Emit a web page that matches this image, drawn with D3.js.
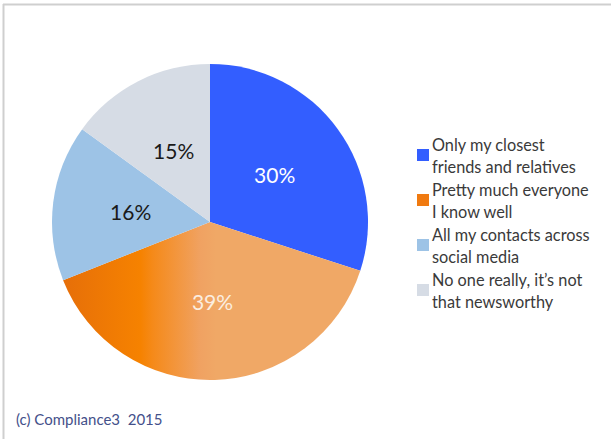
<!DOCTYPE html>
<html>
<head>
<meta charset="utf-8">
<script src="https://cdn.jsdelivr.net/npm/d3@7"></script>
<style>
  html, body { margin: 0; padding: 0; background: #fff; }
  svg { display: block; }
</style>
</head>
<body>
<svg id="chart" width="611" height="439"></svg>
<script>
// Who people would tell — share of respondents
const categories = [
  ["Only my closest", "friends and relatives"],
  ["Pretty much everyone", "I know well"],
  ["All my contacts across", "social media"],
  ["No one really, it\u2019s not", "that newsworthy"]
];
const values = [30, 39, 16, 15];
const sliceColors = ["#335EFF", "url(#orangeGrad)", "#9DC3E6", "#D6DCE5"];
const legendColors = ["#335EFF", "#F07A10", "#9DC3E6", "#D6DCE5"];
const labelColors = ["#ffffff", "#fbeee0", "#1a1a1a", "#1a1a1a"];
const footer = "(c) Compliance3  2015";

const svg = d3.select("#chart");
const W = 611, H = 439;

// frame: top and left rules
svg.append("line").attr("x1", 3).attr("x2", W).attr("y1", 4.5).attr("y2", 4.5)
  .attr("stroke", "#cfcfcf").attr("stroke-width", 2);
svg.append("line").attr("x1", 3.5).attr("x2", 3.5).attr("y1", 4).attr("y2", H)
  .attr("stroke", "#cfcfcf").attr("stroke-width", 2);

const cx = 210, cy = 222, R = 158;

// horizontal gradient used by the orange slice (in the pie group's coordinates)
const defs = svg.append("defs");
const grad = defs.append("linearGradient").attr("id", "orangeGrad")
  .attr("gradientUnits", "userSpaceOnUse")
  .attr("x1", -R).attr("x2", R).attr("y1", 0).attr("y2", 0);
[[0, "#E46C0A"], [0.28, "#F68200"], [0.32, "#F58A1A"], [0.47, "#F0A262"], [0.52, "#F0A866"], [1, "#F0A866"]]
  .forEach(([o, c]) => grad.append("stop").attr("offset", o).attr("stop-color", c));

const pie = d3.pie().sort(null).value(d => d);
const arcs = pie(values);
const arc = d3.arc().innerRadius(0).outerRadius(R);

const g = svg.append("g").attr("transform", `translate(${cx},${cy})`);
g.selectAll("path.slice").data(arcs).join("path")
  .attr("class", "slice")
  .attr("d", arc)
  .attr("fill", (d, i) => sliceColors[i]);

// percentage labels at roughly half the radius
const midR = 80;
g.selectAll("text.pct").data(arcs).join("text")
  .attr("class", "pct")
  .attr("x", d => midR * Math.sin((d.startAngle + d.endAngle) / 2))
  .attr("y", d => -midR * Math.cos((d.startAngle + d.endAngle) / 2))
  .attr("text-anchor", "middle")
  .attr("dominant-baseline", "central")
  .attr("font-family", "Lato, 'Open Sans', sans-serif")
  .attr("font-size", 21)
  .attr("fill", (d, i) => labelColors[i])
  .text(d => d.data + "%");

// legend
const legendY = d3.scaleBand().domain(d3.range(categories.length)).range([133, 313]);
const leg = svg.append("g");
const item = leg.selectAll("g").data(categories).join("g")
  .attr("transform", (d, i) => `translate(0,${legendY(i)})`);
item.append("rect")
  .attr("x", 417).attr("y", 16).attr("width", 12).attr("height", 12)
  .attr("fill", (d, i) => legendColors[i]);
item.each(function(lines) {
  const t = d3.select(this).append("text")
    .attr("font-family", "Lato, sans-serif")
    .attr("font-size", 16.3)
    .attr("fill", "#3a3a3a");
  lines.forEach((ln, k) => t.append("tspan").attr("x", 432).attr("y", 18 + k * 22).text(ln));
});

svg.append("text")
  .attr("x", 16).attr("y", 425)
  .attr("font-family", "Lato, sans-serif")
  .attr("font-size", 15)
  .attr("fill", "#44508a")
  .attr("xml:space", "preserve")
  .text(footer);
</script>
</body>
</html>
